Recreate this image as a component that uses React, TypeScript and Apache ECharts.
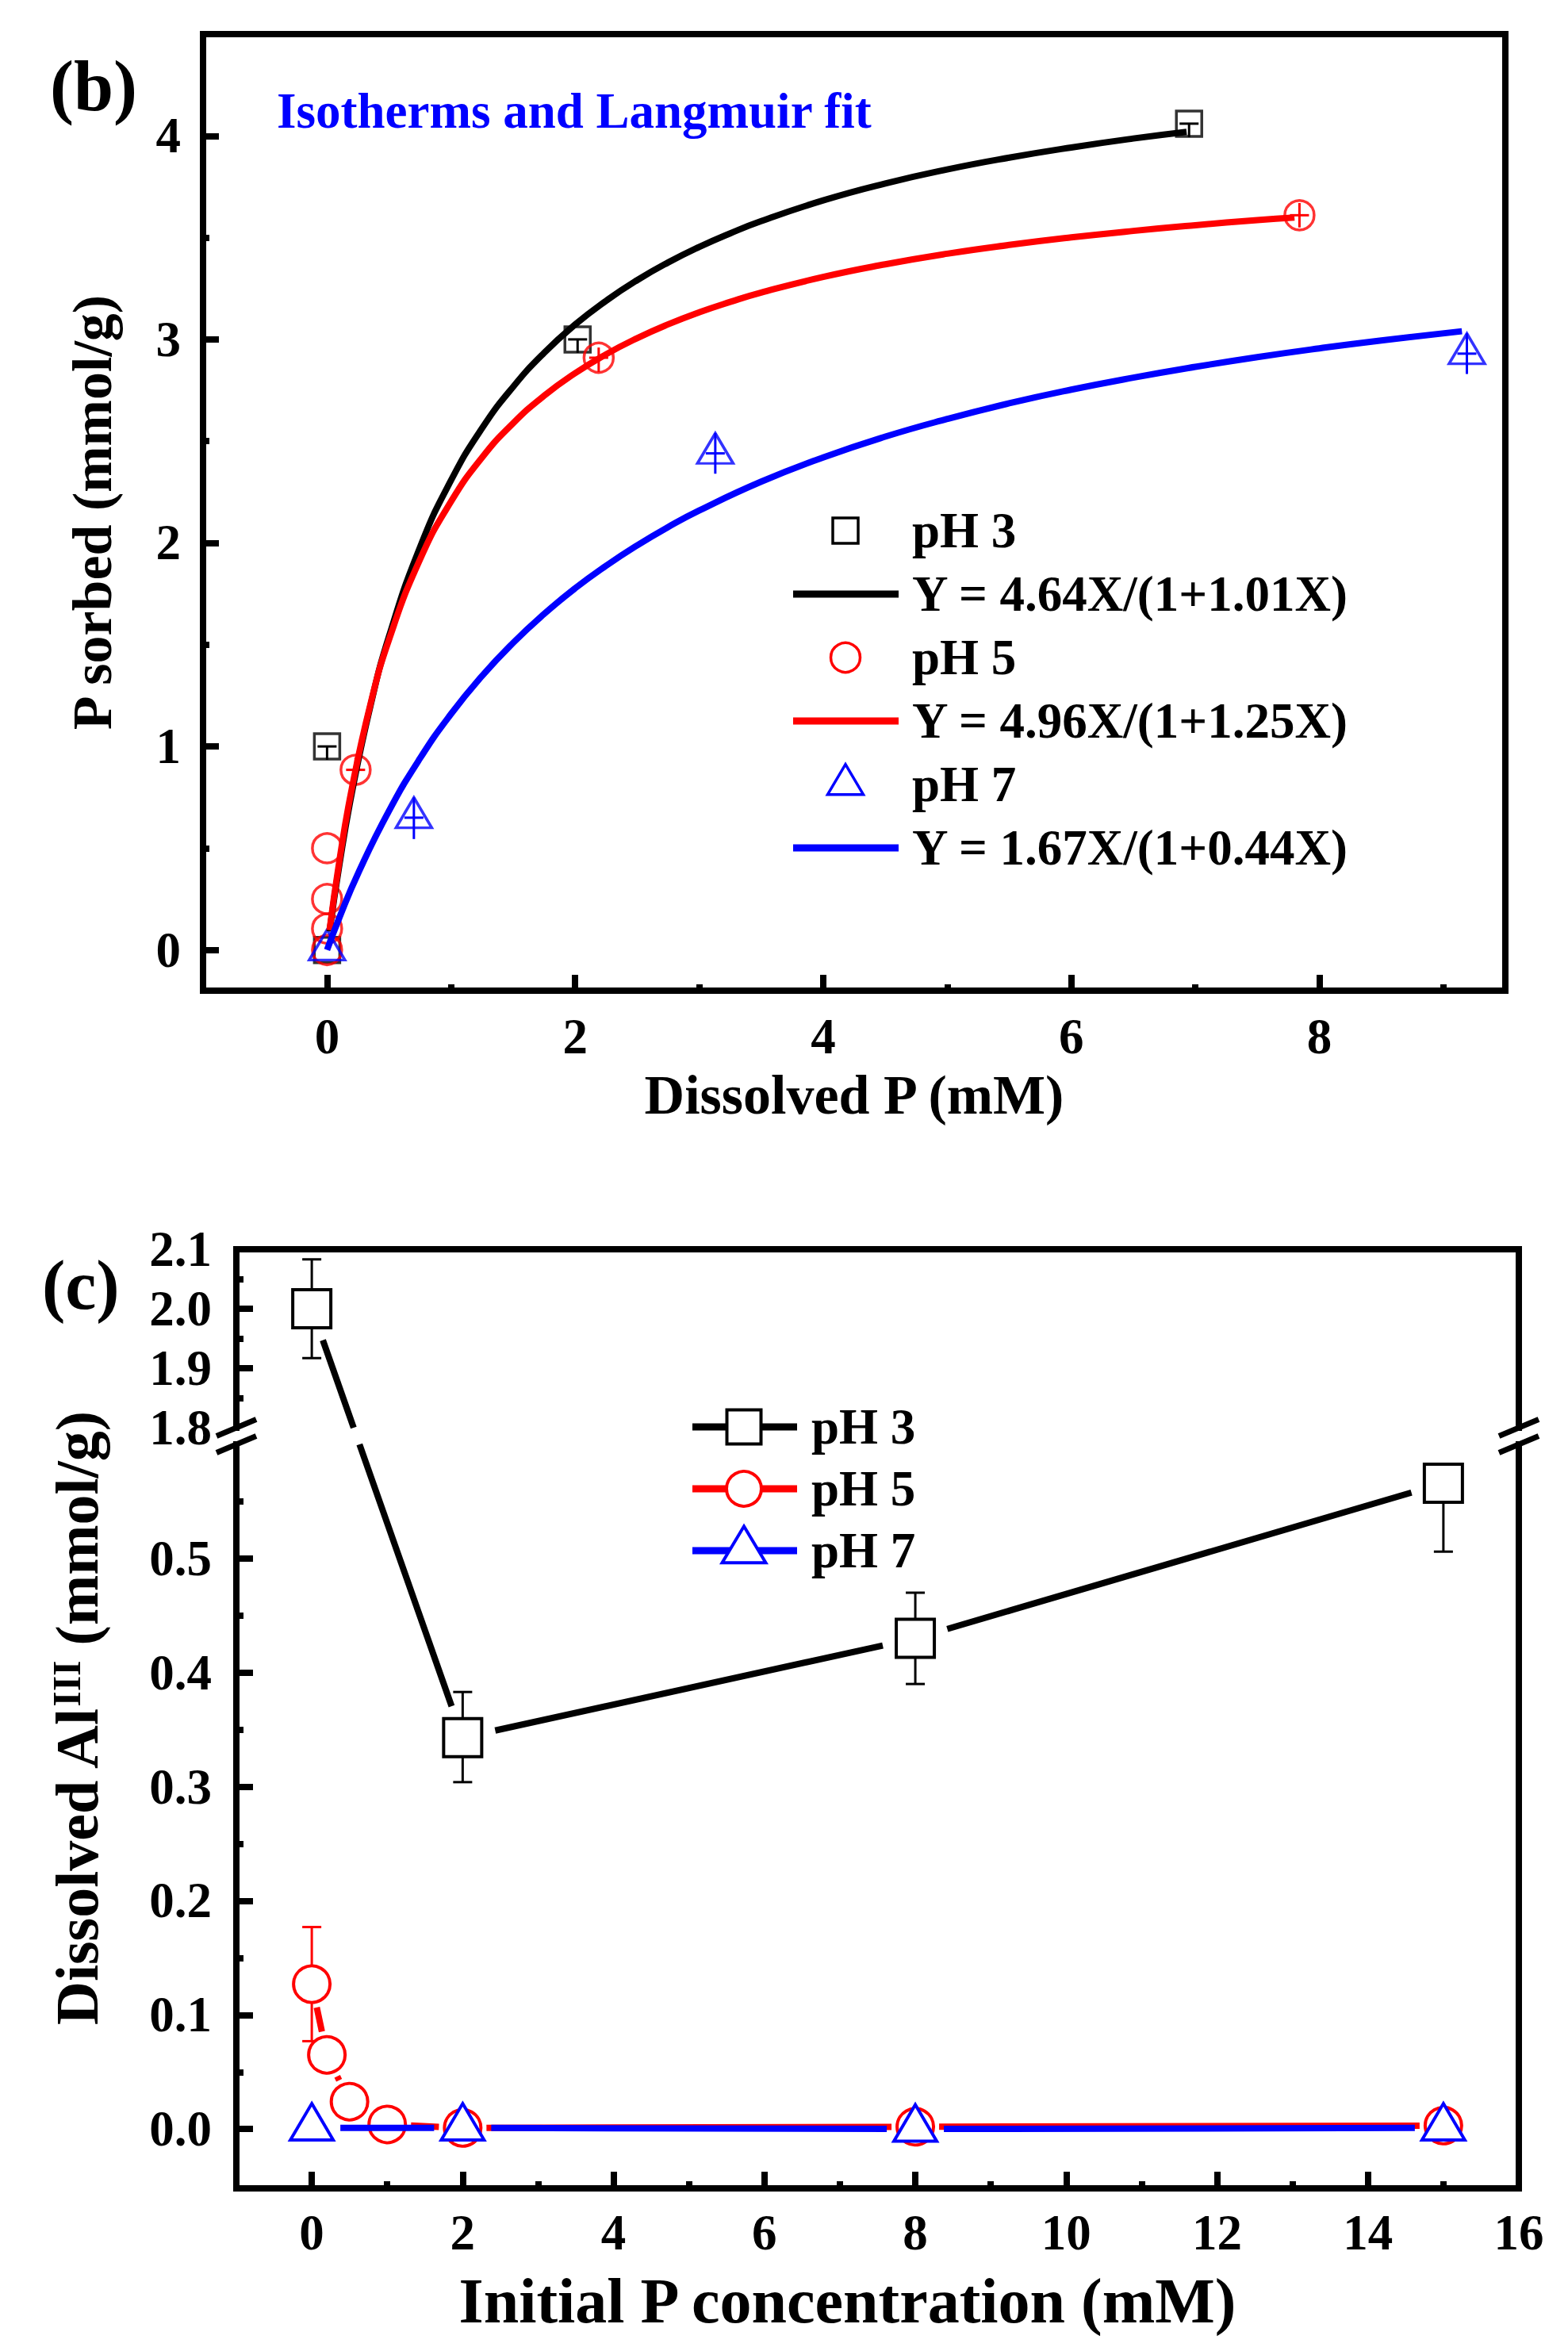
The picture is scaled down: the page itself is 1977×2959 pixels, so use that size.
import React, { useEffect, useRef } from "react";
import * as echarts from "echarts";

const FONT = '"Liberation Serif", "Times New Roman", serif';
const BLACK = "#000000";
const RED = "#ff0000";
const BLUE = "#0000ff";

// ---------------- Panel (b): isotherms ----------------
const bXTicks = [0, 2, 4, 6, 8];
const bXMinor = [1, 3, 5, 7, 9];
const bYTicks = [0, 1, 2, 3, 4];
const bYMinor = [0.5, 1.5, 2.5, 3.5];

const bPH3X = [0, 0, 2.02, 6.95];
const bPH3Y = [0, 1.0, 3.0, 4.06];
const bPH3Lo = [0, 0.066, 0.066, 0.066];
const bPH3Hi = [0, 0, 0, 0];

const bPH5X = [0, 0, 0, 0, 0.23, 2.19, 7.84];
const bPH5Y = [0, 0.105, 0.25, 0.5, 0.885, 2.91, 3.61];
const bPH5Lo = [0, 0, 0, 0, 0.06, 0.07, 0.06];
const bPH5Hi = [0, 0, 0, 0, 0.06, 0.05, 0.06];

const bPH7X = [0, 0.7, 3.13, 9.19];
const bPH7Y = [0, 0.65, 2.44, 2.93];
const bPH7Lo = [0, 0.105, 0.1, 0.1];
const bPH7Hi = [0, 0.1, 0.1, 0.1];

const fit3X = [0.02, 0.1, 0.2, 0.35, 0.5, 0.75, 1, 1.25, 1.5, 1.75, 2, 2.25, 2.5, 2.75, 3, 3.25, 3.5, 4, 4.5, 5, 5.5, 6, 6.5, 6.93];
const fit3Y = [0.091, 0.421, 0.772, 1.2, 1.542, 1.98, 2.308, 2.564, 2.767, 2.934, 3.073, 3.19, 3.291, 3.378, 3.454, 3.521, 3.581, 3.683, 3.766, 3.835, 3.893, 3.943, 3.987, 4.02];
const fit5X = [0.02, 0.1, 0.2, 0.35, 0.5, 0.75, 1, 1.25, 1.5, 1.75, 2, 2.25, 2.5, 2.75, 3, 3.25, 3.5, 4, 4.5, 5, 5.5, 6, 6.5, 7, 7.5, 7.8];
const fit5Y = [0.097, 0.441, 0.794, 1.208, 1.526, 1.92, 2.204, 2.42, 2.588, 2.723, 2.834, 2.927, 3.006, 3.074, 3.133, 3.184, 3.23, 3.307, 3.369, 3.421, 3.464, 3.501, 3.533, 3.561, 3.586, 3.599];
const fit7X = [0, 0.1, 0.25, 0.5, 0.75, 1, 1.25, 1.5, 1.75, 2, 2.25, 2.5, 2.75, 3, 3.5, 4, 4.5, 5, 5.5, 6, 6.5, 7, 7.5, 8, 8.5, 9.15];
const fit7Y = [0, 0.16, 0.376, 0.684, 0.942, 1.16, 1.347, 1.509, 1.651, 1.777, 1.888, 1.988, 2.078, 2.159, 2.301, 2.42, 2.522, 2.609, 2.686, 2.753, 2.812, 2.865, 2.913, 2.956, 2.995, 3.04];

const bLegendLabels = ["pH 3", "Y = 4.64X/(1+1.01X)", "pH 5", "Y = 4.96X/(1+1.25X)", "pH 7", "Y = 1.67X/(1+0.44X)"];

// ---------------- Panel (c): dissolved Al ----------------
const cXTicks = [0, 2, 4, 6, 8, 10, 12, 14, 16];
const cXMinor = [1, 3, 5, 7, 9, 11, 13, 15];
const cUpperLabels = [1.8, 1.9, 2.0, 2.1];
const cUpperTicks = [1.9, 2.0, 2.1];
const cUpperMinor = [1.85, 1.95, 2.05];
const cLowerTicks = [0, 0.1, 0.2, 0.3, 0.4, 0.5];
const cLowerMinor = [0.05, 0.15, 0.25, 0.35, 0.45, 0.55];

const cPH3X = [0, 2, 8, 15];
const cPH3Y = [2.0, 0.343, 0.43, 0.566];
const cPH3Lo = [0.083, 0.039, 0.04, 0.06];
const cPH3Hi = [0.083, 0.04, 0.04, 0];

const cPH5X = [0, 0.2, 0.5, 1, 2, 8, 15];
const cPH5Y = [0.127, 0.065, 0.024, 0.004, 0.001, 0.002, 0.003];
const cPH5Lo = [0.05, 0.006, 0.006, 0.006, 0, 0, 0];
const cPH5Hi = [0.05, 0.006, 0.006, 0.006, 0, 0, 0];

const cPH7X = [0, 2, 8, 15];
const cPH7Y = [0.001, 0.001, 0.0, 0.001];
const cPH7Lo = [0, 0, 0, 0];
const cPH7Hi = [0, 0, 0, 0];

const cLegendLabels = ["pH 3", "pH 5", "pH 7"];

// ---------------- layout ----------------
const B = { left: 256, top: 43, right: 1898, bottom: 1249, xMin: -1, xMax: 9.5, yMin: -0.2, yMax: 4.5 };
const C = {
  left: 298, right: 1915, top: 1575, upperBottom: 1800, lowerTop: 1821, bottom: 2759,
  xMin: -1, xMax: 16, upperMin: 1.8, upperMax: 2.1, lowerMin: -0.052, lowerMax: 0.6,
};
const UPPER_PPU = (C.upperBottom - C.top) / (C.upperMax - C.upperMin);
const LOWER_PPU = (C.bottom - C.lowerTop) / (C.lowerMax - C.lowerMin);
const GAP_PX = C.lowerTop - C.upperBottom;

// map a real value onto the lower axis (values above the break continue past its max)
function virt(y: number) {
  if (y <= C.lowerMax) return y;
  if (y < C.upperMin) return C.lowerMax + ((y - C.lowerMax) / (C.upperMin - C.lowerMax)) * GAP_PX / LOWER_PPU;
  return C.lowerMax + (GAP_PX + (y - C.upperMin) * UPPER_PPU) / LOWER_PPU;
}

const zip = (xs: number[], ys: number[]) => xs.map((x, i) => [x, ys[i]]);

function splitAtBreak(x1: number, y1: number, x2: number, y2: number, yTop: number, yBot: number) {
  const out: number[][] = [];
  if (y1 === y2) {
    if (y1 <= yTop || y1 >= yBot) out.push([x1, y1, x2, y2]);
    return out;
  }
  const cl = (t: number) => Math.max(0, Math.min(1, t));
  const tTop = cl((yTop - y1) / (y2 - y1));
  const tBot = cl((yBot - y1) / (y2 - y1));
  const iv = y2 > y1 ? [[0, tTop], [tBot, 1]] : [[0, tBot], [tTop, 1]];
  for (const [a, b] of iv) {
    if (b - a > 1e-6) out.push([x1 + (x2 - x1) * a, y1 + (y2 - y1) * a, x1 + (x2 - x1) * b, y1 + (y2 - y1) * b]);
  }
  return out;
}

type Dims = { s?: number; r?: number; w?: number; h?: number };
function markerEl(shape: string, cx: number, cy: number, color: string, d: Dims, lw: number, fill: string) {
  const style = { fill, stroke: color, lineWidth: lw, lineJoin: "miter" };
  if (shape === "rect") {
    const s = d.s as number;
    return { type: "rect", shape: { x: cx - s / 2, y: cy - s / 2, width: s, height: s }, style };
  }
  if (shape === "circle") {
    return { type: "circle", shape: { cx, cy, r: d.r }, style };
  }
  const w = d.w as number, h = d.h as number;
  return {
    type: "polygon",
    shape: { points: [[cx, cy - (2 * h) / 3], [cx + w / 2, cy + h / 3], [cx - w / 2, cy + h / 3]] },
    style,
  };
}

// panel (b) error glyphs
function bErrRenderer(xs: number[], ys: number[], lo: number[], hi: number[], color: string) {
  return (params: any, api: any) => {
    const i = params.dataIndex;
    if (!(lo[i] > 0 || hi[i] > 0)) return { type: "group", children: [] };
    const p = api.coord([xs[i], ys[i]]);
    const t = api.coord([xs[i], ys[i] + hi[i]]);
    const b = api.coord([xs[i], ys[i] - lo[i]]);
    return {
      type: "group",
      children: [
        { type: "line", shape: { x1: t[0], y1: t[1], x2: b[0], y2: b[1] }, style: { stroke: color, lineWidth: 3 } },
        { type: "line", shape: { x1: p[0] - 12, y1: p[1], x2: p[0] + 12, y2: p[1] }, style: { stroke: color, lineWidth: 3 } },
      ],
    };
  };
}

// panel (c) lines with gaps at symbols, broken axis, error bars, symbols
function cRenderer(xs: number[], ys: number[], lo: number[], hi: number[], color: string, shape: string, dims: Dims, trim: number) {
  return (params: any, api: any) => {
    const i = params.dataIndex;
    const yTop = api.coord([0, virt(C.upperMin)])[1];
    const yBot = api.coord([0, C.lowerMax])[1];
    const inBand = (py: number) => py > yTop - 0.5 && py < yBot + 0.5;
    const children: any[] = [];
    const seg = (a: number[], b: number[], w: number) => {
      splitAtBreak(a[0], a[1], b[0], b[1], yTop, yBot).forEach((s) =>
        children.push({ type: "line", shape: { x1: s[0], y1: s[1], x2: s[2], y2: s[3] }, style: { stroke: color, lineWidth: w } })
      );
    };
    const p = api.coord([xs[i], virt(ys[i])]);
    if (i < xs.length - 1) {
      const q = api.coord([xs[i + 1], virt(ys[i + 1])]);
      const dx = q[0] - p[0], dy = q[1] - p[1];
      const len = Math.hypot(dx, dy);
      if (len > 2 * trim + 1) {
        seg([p[0] + (dx / len) * trim, p[1] + (dy / len) * trim], [q[0] - (dx / len) * trim, q[1] - (dy / len) * trim], 8);
      }
    }
    if (lo[i] > 0 || hi[i] > 0) {
      const top = api.coord([xs[i], virt(ys[i] + hi[i])]);
      const bot = api.coord([xs[i], virt(ys[i] - lo[i])]);
      seg(top, bot, 3);
      const ends: number[][] = [];
      if (hi[i] > 0) ends.push(top);
      if (lo[i] > 0) ends.push(bot);
      for (const c of ends) {
        if (!inBand(c[1])) {
          children.push({ type: "line", shape: { x1: c[0] - 12, y1: c[1], x2: c[0] + 12, y2: c[1] }, style: { stroke: color, lineWidth: 3 } });
        }
      }
    }
    children.push(markerEl(shape, p[0], p[1], color, dims, 4, "#ffffff"));
    return { type: "group", children };
  };
}

const tickLabel = { fontSize: 63, fontWeight: "bold", fontFamily: FONT, color: BLACK };
const noLine = { show: false, onZero: false };
const frameLine = { show: true, onZero: false, lineStyle: { color: BLACK, width: 8, cap: "square" } };
const tickStyle = { color: BLACK, width: 8 };

function textEl(text: string, x: number, y: number, size: number, color = BLACK) {
  return {
    type: "text",
    x,
    y,
    z: 100,
    style: { text, fill: color, fontSize: size, fontWeight: "bold", fontFamily: FONT, align: "left", verticalAlign: "middle" },
  };
}
function lineEl(x1: number, y1: number, x2: number, y2: number, color: string, w: number) {
  return { type: "line", z: 100, shape: { x1, y1, x2, y2 }, style: { stroke: color, lineWidth: w } };
}

function buildGraphics() {
  const g: any[] = [];
  g.push(textEl("(b)", 63, 108, 90));
  g.push(textEl("(c)", 53, 1620, 88));
  g.push(textEl("Isotherms and Langmuir fit", 349, 140, 63, BLUE));

  // legend (b)
  const bRows = [669, 749, 829, 909, 989, 1069];
  const bSymX = 1066, bLineX1 = 1000, bLineX2 = 1133, bTextX = 1150;
  const bMarkers: [string, string, Dims][] = [
    ["rect", BLACK, { s: 32 }],
    ["circle", RED, { r: 18.5 }],
    ["triangle", BLUE, { w: 45, h: 38 }],
  ];
  const bColors = [BLACK, RED, BLUE];
  bLegendLabels.forEach((lab, k) => {
    const y = bRows[k];
    const grp = Math.floor(k / 2);
    if (k % 2 === 0) {
      const [shape, color, dims] = bMarkers[grp];
      g.push({ ...markerEl(shape, bSymX, y, color, dims, 3.5, "none"), z: 100 });
    } else {
      g.push(lineEl(bLineX1, y, bLineX2, y, bColors[grp], 9));
    }
    g.push(textEl(lab, bTextX, y, 63));
  });

  // legend (c)
  const cRows = [1799, 1877, 1955];
  const cMarkers: [string, string, Dims][] = [
    ["rect", BLACK, { s: 43 }],
    ["circle", RED, { r: 22 }],
    ["triangle", BLUE, { w: 55, h: 46 }],
  ];
  cLegendLabels.forEach((lab, k) => {
    const y = cRows[k];
    const [shape, color, dims] = cMarkers[k];
    g.push(lineEl(873, y, 1005, y, color, 9));
    g.push({ ...markerEl(shape, 938, y, color, dims, 4, "#ffffff"), z: 101 });
    g.push(textEl(lab, 1023, y, 63));
  });

  // axis-break marks
  for (const x of [C.left, C.right]) {
    g.push(lineEl(x - 25, C.upperBottom + 10.5, x + 25, C.upperBottom - 10.5, BLACK, 7));
    g.push(lineEl(x - 25, C.lowerTop + 10.5, x + 25, C.lowerTop - 10.5, BLACK, 7));
  }
  return g;
}

function buildOption() {
  const nameB = { fontSize: 70, fontWeight: "bold", fontFamily: FONT, color: BLACK };
  const nameC = { fontSize: 80, fontWeight: "bold", fontFamily: FONT, color: BLACK, padding: [0, 76, 0, 0] };
  const fmt1 = (v: number) => v.toFixed(1);
  const fitLine = (name: string, xs: number[], ys: number[], color: string) => ({
    type: "line", name, xAxisIndex: 0, yAxisIndex: 0, data: zip(xs, ys),
    showSymbol: false, symbol: "none", smooth: 0.5, lineStyle: { color, width: 8 }, z: 3, silent: true,
  });

  return {
    animation: false,
    backgroundColor: "#ffffff",
    grid: [
      { left: B.left, top: B.top, width: B.right - B.left, height: B.bottom - B.top, show: true, borderColor: BLACK, borderWidth: 8, backgroundColor: "transparent" },
      { left: C.left, top: C.top, width: C.right - C.left, height: C.upperBottom - C.top },
      { left: C.left, top: C.lowerTop, width: C.right - C.left, height: C.bottom - C.lowerTop },
      { left: C.left, top: C.top, width: C.right - C.left, height: C.bottom - C.top },
    ],
    xAxis: [
      {
        gridIndex: 0, type: "value", position: "bottom", min: B.xMin, max: B.xMax,
        axisLine: noLine, splitLine: { show: false },
        axisTick: { show: true, inside: true, length: 20, lineStyle: tickStyle, customValues: bXTicks },
        axisLabel: { ...tickLabel, margin: 26, customValues: bXTicks, formatter: (v: number) => String(v) },
        name: "Dissolved P (mM)", nameLocation: "middle", nameGap: 96, nameTextStyle: nameB,
      },
      {
        gridIndex: 0, type: "value", position: "bottom", min: B.xMin, max: B.xMax,
        axisLine: noLine, splitLine: { show: false }, axisLabel: { show: false },
        axisTick: { show: true, inside: true, length: 8, lineStyle: tickStyle, customValues: bXMinor },
      },
      {
        gridIndex: 1, type: "value", position: "top", min: C.xMin, max: C.xMax,
        axisLine: frameLine, axisTick: { show: false }, axisLabel: { show: false }, splitLine: { show: false },
      },
      {
        gridIndex: 2, type: "value", position: "bottom", min: C.xMin, max: C.xMax,
        axisLine: frameLine, splitLine: { show: false },
        axisTick: { show: true, inside: true, length: 21, lineStyle: tickStyle, customValues: cXTicks },
        axisLabel: { ...tickLabel, margin: 24, customValues: cXTicks, formatter: (v: number) => String(v) },
        name: "Initial P concentration (mM)", nameLocation: "middle", nameGap: 102, nameTextStyle: nameC,
      },
      {
        gridIndex: 2, type: "value", position: "bottom", min: C.xMin, max: C.xMax,
        axisLine: noLine, splitLine: { show: false }, axisLabel: { show: false },
        axisTick: { show: true, inside: true, length: 9, lineStyle: tickStyle, customValues: cXMinor },
      },
      { gridIndex: 3, type: "value", show: false, min: 0, max: 1 },
    ],
    yAxis: [
      {
        gridIndex: 0, type: "value", position: "left", min: B.yMin, max: B.yMax,
        axisLine: noLine, splitLine: { show: false },
        axisTick: { show: true, inside: true, length: 20, lineStyle: tickStyle, customValues: bYTicks },
        axisLabel: { ...tickLabel, margin: 28, customValues: bYTicks, formatter: (v: number) => String(v) },
        name: "P sorbed (mmol/g)", nameLocation: "middle", nameRotate: 90, nameGap: 105, nameTextStyle: nameB,
      },
      {
        gridIndex: 0, type: "value", position: "left", min: B.yMin, max: B.yMax,
        axisLine: noLine, splitLine: { show: false }, axisLabel: { show: false },
        axisTick: { show: true, inside: true, length: 8, lineStyle: tickStyle, customValues: bYMinor },
      },
      {
        gridIndex: 1, type: "value", position: "left", min: C.upperMin, max: C.upperMax,
        axisLine: frameLine, splitLine: { show: false },
        axisTick: { show: true, inside: true, length: 21, lineStyle: tickStyle, customValues: cUpperTicks },
        axisLabel: { ...tickLabel, margin: 31, customValues: cUpperLabels, formatter: fmt1 },
      },
      {
        gridIndex: 1, type: "value", position: "left", min: C.upperMin, max: C.upperMax,
        axisLine: noLine, splitLine: { show: false }, axisLabel: { show: false },
        axisTick: { show: true, inside: true, length: 9, lineStyle: tickStyle, customValues: cUpperMinor },
      },
      {
        gridIndex: 1, type: "value", position: "right", min: C.upperMin, max: C.upperMax,
        axisLine: frameLine, axisTick: { show: false }, axisLabel: { show: false }, splitLine: { show: false },
      },
      {
        gridIndex: 2, type: "value", position: "left", min: C.lowerMin, max: C.lowerMax,
        axisLine: frameLine, splitLine: { show: false },
        axisTick: { show: true, inside: true, length: 21, lineStyle: tickStyle, customValues: cLowerTicks },
        axisLabel: { ...tickLabel, margin: 31, customValues: cLowerTicks, formatter: fmt1 },
      },
      {
        gridIndex: 2, type: "value", position: "left", min: C.lowerMin, max: C.lowerMax,
        axisLine: noLine, splitLine: { show: false }, axisLabel: { show: false },
        axisTick: { show: true, inside: true, length: 9, lineStyle: tickStyle, customValues: cLowerMinor },
      },
      {
        gridIndex: 2, type: "value", position: "right", min: C.lowerMin, max: C.lowerMax,
        axisLine: frameLine, axisTick: { show: false }, axisLabel: { show: false }, splitLine: { show: false },
      },
      {
        gridIndex: 3, type: "value", position: "left", min: 0, max: 1,
        axisLine: { show: false, onZero: false }, axisTick: { show: false }, axisLabel: { show: false }, splitLine: { show: false },
        name: "{m|Dissolved Al}{s|III}{m| (mmol/g)}",
        nameLocation: "middle", nameRotate: 90, nameGap: 163,
        nameTextStyle: {
          rich: {
            m: { fontSize: 76, fontWeight: "bold", fontFamily: FONT, color: BLACK },
            s: { fontSize: 50, fontWeight: "bold", fontFamily: FONT, color: BLACK, verticalAlign: "top" },
          },
        },
      },
    ],
    series: [
      // panel (b) symbols
      {
        type: "scatter", name: "pH 3", xAxisIndex: 0, yAxisIndex: 0, data: zip(bPH3X, bPH3Y),
        symbol: "rect", symbolSize: 32, itemStyle: { color: "rgba(0,0,0,0)", borderColor: BLACK, borderWidth: 3.5 }, z: 2, silent: true,
      },
      {
        type: "scatter", name: "pH 5", xAxisIndex: 0, yAxisIndex: 0, data: zip(bPH5X, bPH5Y),
        symbol: "circle", symbolSize: 37, itemStyle: { color: "rgba(0,0,0,0)", borderColor: RED, borderWidth: 3.5 }, z: 2, silent: true,
      },
      {
        type: "scatter", name: "pH 7", xAxisIndex: 0, yAxisIndex: 0, data: zip(bPH7X, bPH7Y),
        symbol: "triangle", symbolSize: [45, 38], symbolOffset: [0, -38 / 6],
        itemStyle: { color: "rgba(0,0,0,0)", borderColor: BLUE, borderWidth: 3.5 }, z: 2, silent: true,
      },
      { type: "custom", xAxisIndex: 0, yAxisIndex: 0, data: zip(bPH3X, bPH3Y), renderItem: bErrRenderer(bPH3X, bPH3Y, bPH3Lo, bPH3Hi, BLACK), z: 2, silent: true },
      { type: "custom", xAxisIndex: 0, yAxisIndex: 0, data: zip(bPH5X, bPH5Y), renderItem: bErrRenderer(bPH5X, bPH5Y, bPH5Lo, bPH5Hi, RED), z: 2, silent: true },
      { type: "custom", xAxisIndex: 0, yAxisIndex: 0, data: zip(bPH7X, bPH7Y), renderItem: bErrRenderer(bPH7X, bPH7Y, bPH7Lo, bPH7Hi, BLUE), z: 2, silent: true },
      // panel (b) Langmuir fits
      fitLine("Y = 4.64X/(1+1.01X)", fit3X, fit3Y, BLACK),
      fitLine("Y = 4.96X/(1+1.25X)", fit5X, fit5Y, RED),
      fitLine("Y = 1.67X/(1+0.44X)", fit7X, fit7Y, BLUE),
      // panel (c)
      {
        type: "custom", name: "pH 3 (c)", xAxisIndex: 3, yAxisIndex: 5, clip: false, silent: true, z: 4,
        data: cPH3X.map((x, i) => [x, virt(cPH3Y[i])]),
        renderItem: cRenderer(cPH3X, cPH3Y, cPH3Lo, cPH3Hi, BLACK, "rect", { s: 48 }, 42),
      },
      {
        type: "custom", name: "pH 5 (c)", xAxisIndex: 3, yAxisIndex: 5, clip: false, silent: true, z: 5,
        data: cPH5X.map((x, i) => [x, virt(cPH5Y[i])]),
        renderItem: cRenderer(cPH5X, cPH5Y, cPH5Lo, cPH5Hi, RED, "circle", { r: 23 }, 30),
      },
      {
        type: "custom", name: "pH 7 (c)", xAxisIndex: 3, yAxisIndex: 5, clip: false, silent: true, z: 6,
        data: cPH7X.map((x, i) => [x, virt(cPH7Y[i])]),
        renderItem: cRenderer(cPH7X, cPH7Y, cPH7Lo, cPH7Hi, BLUE, "triangle", { w: 54, h: 46 }, 36),
      },
    ],
    graphic: buildGraphics(),
  };
}

export default function App() {
  const ref = useRef<HTMLDivElement>(null);
  useEffect(() => {
    document.body.style.margin = "0";
    document.body.style.overflow = "hidden";
    const chart = echarts.init(ref.current as HTMLDivElement, null, { renderer: "svg" });
    chart.setOption(buildOption() as any);
    return () => chart.dispose();
  }, []);
  return (
    <>
      <style>{"body{margin:0;overflow:hidden}"}</style>
      <div ref={ref} style={{ width: 1977, height: 2959 }} />
    </>
  );
}
